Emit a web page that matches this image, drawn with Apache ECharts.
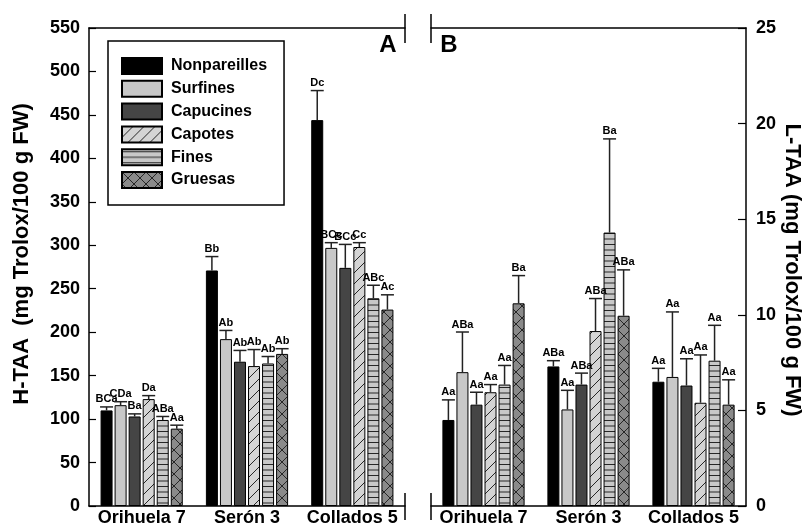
<!DOCTYPE html>
<html><head><meta charset="utf-8">
<script src="https://cdn.jsdelivr.net/npm/echarts@6/dist/echarts.min.js"></script>
<style>html,body{margin:0;padding:0;background:#fff}#c{width:807px;height:527px}</style>
</head><body><div id="c"></div>
<script>
// ---- data ----
const categories = ['Orihuela 7', 'Serón 3', 'Collados 5'];
const varieties = ['Nonpareilles', 'Surfines', 'Capucines', 'Capotes', 'Fines', 'Gruesas'];
const hTicks = [0, 50, 100, 150, 200, 250, 300, 350, 400, 450, 500, 550];
const lTicks = [0, 5, 10, 15, 20, 25];

// H-TAA (panel A), one row per variety, columns = categories
const hMean = [
  [110, 271, 444],
  [116, 192, 297],
  [103, 166, 274],
  [123, 161, 298],
  [99, 164, 239],
  [89, 175, 226]
];
const hSD = [
  [4, 16, 34],
  [4, 10, 6],
  [3, 13, 27],
  [4, 19, 5],
  [4, 8, 15],
  [4, 6, 17]
];
const hLetters = [
  ['BCa', 'Bb', 'Dc'],
  ['CDa', 'Ab', 'BCc'],
  ['Ba', 'Ab', 'BCc'],
  ['Da', 'Ab', 'Cc'],
  ['ABa', 'Ab', 'ABc'],
  ['Aa', 'Ab', 'Ac']
];

// L-TAA (panel B)
const lMean = [
  [4.5, 7.3, 6.5],
  [7.0, 5.05, 6.75],
  [5.3, 6.35, 6.3],
  [5.95, 9.15, 5.4],
  [6.35, 14.3, 7.6],
  [10.6, 9.95, 5.3]
];
const lSD = [
  [1.05, 0.3, 0.7],
  [2.1, 1.0, 3.4],
  [0.65, 0.6, 1.4],
  [0.4, 1.7, 2.5],
  [1.0, 4.9, 1.85],
  [1.45, 2.4, 1.3]
];
const lLetters = [
  ['Aa', 'ABa', 'Aa'],
  ['ABa', 'Aa', 'Aa'],
  ['Aa', 'ABa', 'Aa'],
  ['Aa', 'ABa', 'Aa'],
  ['Aa', 'Ba', 'Aa'],
  ['Ba', 'ABa', 'Aa']
];

// ---- styling ----
const FONT = '"Liberation Sans", Arial, sans-serif';
const BAR_W = 12;
const BAR_GAP = 0.17;
const PITCH = BAR_W * (1 + BAR_GAP);
const CAP = 13;

function makePattern(bg, draw, w, h) {
  const c = document.createElement('canvas');
  c.width = w; c.height = h;
  const ctx = c.getContext('2d');
  ctx.fillStyle = bg; ctx.fillRect(0, 0, w, h);
  ctx.strokeStyle = '#262626'; ctx.lineWidth = 1;
  draw(ctx, w, h);
  return { image: c, repeat: 'repeat' };
}
const fills = [
  '#000000',
  '#c8c8c8',
  '#454545',
  makePattern('#d4d4d4', (ctx, w, h) => {
    ctx.beginPath();
    ctx.moveTo(-1, h + 1); ctx.lineTo(w + 1, -1);
    ctx.moveTo(-1, 1); ctx.lineTo(1, -1);
    ctx.moveTo(w - 1, h + 1); ctx.lineTo(w + 1, h - 1);
    ctx.stroke();
  }, 11, 11),
  makePattern('#c8c8c8', (ctx, w, h) => {
    ctx.lineWidth = 1.2;
    ctx.beginPath();
    ctx.moveTo(0, 2.5); ctx.lineTo(w, 2.5);
    ctx.moveTo(0, 8); ctx.lineTo(w, 8);
    ctx.stroke();
  }, 4, 11),
  makePattern('#8a8a8a', (ctx, w, h) => {
    ctx.beginPath();
    ctx.moveTo(0, 0); ctx.lineTo(w, h);
    ctx.moveTo(w, 0); ctx.lineTo(0, h);
    ctx.stroke();
  }, 12, 12)
];

function errData(mean, sd) {
  const out = [];
  mean.forEach((row, s) => row.forEach((m, c) => out.push([c, s, m, m + sd[s][c]])));
  return out;
}
function errRender(letters) {
  return function (params, api) {
    const c = api.value(0), s = api.value(1);
    const p0 = api.coord([c, api.value(2)]);
    const p1 = api.coord([c, api.value(3)]);
    const x = p0[0] + (s - 2.5) * PITCH;
    const ls = { stroke: '#222', lineWidth: 1.5 };
    return {
      type: 'group',
      children: [
        { type: 'line', shape: { x1: x, y1: p0[1], x2: x, y2: p1[1] }, style: ls },
        { type: 'line', shape: { x1: x - CAP / 2, y1: p1[1], x2: x + CAP / 2, y2: p1[1] }, style: ls },
        { type: 'text', x: x, y: p1[1] - 2,
          style: { text: letters[s][c], textAlign: 'center', textVerticalAlign: 'bottom',
                   font: 'bold 11px ' + FONT, fill: '#000' } }
      ]
    };
  };
}

const series = [];
varieties.forEach((v, i) => {
  series.push({
    type: 'bar', name: v, xAxisIndex: 0, yAxisIndex: 0, data: hMean[i],
    barWidth: BAR_W, barGap: (BAR_GAP * 100) + '%',
    itemStyle: { color: fills[i], borderColor: '#000', borderWidth: 1 }
  });
});
varieties.forEach((v, i) => {
  series.push({
    type: 'bar', name: v, xAxisIndex: 1, yAxisIndex: 1, data: lMean[i],
    barWidth: BAR_W, barGap: (BAR_GAP * 100) + '%',
    itemStyle: { color: fills[i], borderColor: '#000', borderWidth: 1 }
  });
});
series.push({ type: 'custom', name: 'errA', xAxisIndex: 0, yAxisIndex: 0,
  data: errData(hMean, hSD), encode: { x: 0, y: 3 }, renderItem: errRender(hLetters), z: 5 });
series.push({ type: 'custom', name: 'errB', xAxisIndex: 1, yAxisIndex: 1,
  data: errData(lMean, lSD), encode: { x: 0, y: 3 }, renderItem: errRender(lLetters), z: 5 });

const axLine = { show: true, lineStyle: { color: '#000', width: 1.5 } };
const xLabel = { interval: 0, margin: 3, fontSize: 18, fontWeight: 'bold', color: '#000', fontFamily: FONT };
const yLabel = { fontSize: 18, fontWeight: 'bold', color: '#000', fontFamily: FONT };

const option = {
  animation: false,
  backgroundColor: '#fff',
  grid: [
    { left: 89, top: 28, width: 316, height: 478 },
    { left: 431, top: 28, width: 315, height: 478 }
  ],
  legend: {
    data: varieties, orient: 'vertical', left: 108, top: 41,
    padding: [16, 17, 16, 13], itemWidth: 40, itemHeight: 16, itemGap: 4.8,
    borderColor: '#000', borderWidth: 1.5, backgroundColor: '#fff',
    icon: 'rect', selectedMode: false,
    textStyle: { fontFamily: FONT, fontWeight: 'bold', fontSize: 16, color: '#000', padding: [0, 0, 0, 4] }
  },
  xAxis: [
    { gridIndex: 0, type: 'category', data: categories, position: 'bottom', axisLine: axLine, axisTick: { show: false }, axisLabel: xLabel },
    { gridIndex: 1, type: 'category', data: categories, position: 'bottom', axisLine: axLine, axisTick: { show: false }, axisLabel: xLabel },
    { gridIndex: 0, type: 'category', data: categories, position: 'top', axisLine: axLine, axisTick: { show: false }, axisLabel: { show: false } },
    { gridIndex: 1, type: 'category', data: categories, position: 'top', axisLine: axLine, axisTick: { show: false }, axisLabel: { show: false } }
  ],
  yAxis: [
    { gridIndex: 0, type: 'value', position: 'left', min: hTicks[0], max: hTicks[hTicks.length - 1], interval: hTicks[1] - hTicks[0],
      axisLine: axLine, axisTick: { show: true, inside: true, length: 7, lineStyle: { color: '#000', width: 1.2 } },
      splitLine: { show: false }, axisLabel: Object.assign({ margin: 9 }, yLabel) },
    { gridIndex: 1, type: 'value', position: 'right', min: lTicks[0], max: lTicks[lTicks.length - 1], interval: lTicks[1] - lTicks[0],
      axisLine: axLine, axisTick: { show: true, inside: true, length: 8, lineStyle: { color: '#000', width: 1.2 } },
      splitLine: { show: false }, axisLabel: Object.assign({ margin: 10 }, yLabel) }
  ],
  graphic: [
    { type: 'text', x: 22, y: 254, rotation: Math.PI / 2,
      style: { text: 'H-TAA  (mg Trolox/100 g FW)', textAlign: 'center', textVerticalAlign: 'middle', font: 'bold 22px ' + FONT, fill: '#000' } },
    { type: 'text', x: 792, y: 270, rotation: -Math.PI / 2,
      style: { text: 'L-TAA (mg Trolox/100 g FW)', textAlign: 'center', textVerticalAlign: 'middle', font: 'bold 22px ' + FONT, fill: '#000' } },
    { type: 'text', x: 388, y: 45, style: { text: 'A', textAlign: 'center', textVerticalAlign: 'middle', font: 'bold 24px ' + FONT, fill: '#000' } },
    { type: 'text', x: 449, y: 45, style: { text: 'B', textAlign: 'center', textVerticalAlign: 'middle', font: 'bold 24px ' + FONT, fill: '#000' } },
    { type: 'line', shape: { x1: 405, y1: 14, x2: 405, y2: 43 }, style: { stroke: '#000', lineWidth: 1.5 } },
    { type: 'line', shape: { x1: 431, y1: 14, x2: 431, y2: 43 }, style: { stroke: '#000', lineWidth: 1.5 } },
    { type: 'line', shape: { x1: 405, y1: 493, x2: 405, y2: 520 }, style: { stroke: '#000', lineWidth: 1.5 } },
    { type: 'line', shape: { x1: 431, y1: 493, x2: 431, y2: 520 }, style: { stroke: '#000', lineWidth: 1.5 } }
  ],
  series: series
};
const chart = echarts.init(document.getElementById('c'), null, { renderer: 'canvas' });
chart.setOption(option);
</script>
</body></html>
